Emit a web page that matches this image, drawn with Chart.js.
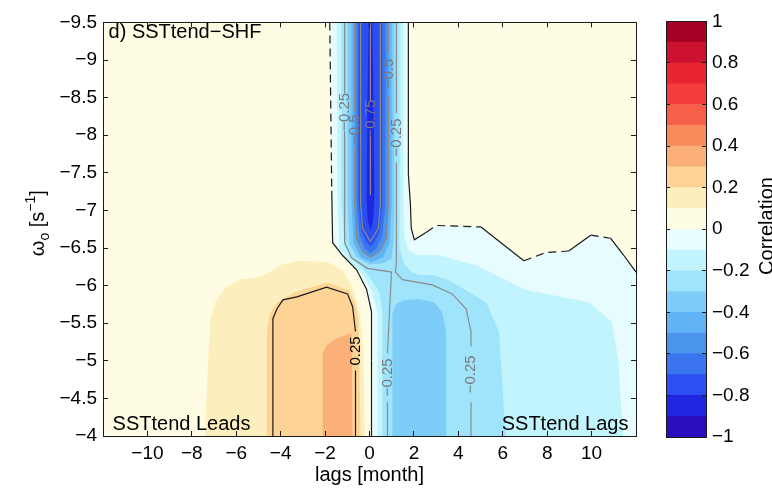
<!DOCTYPE html>
<html lang="en">
<head>
<meta charset="UTF-8">
<title>SSTtend-SHF lag correlation</title>
<script src="https://cdn.jsdelivr.net/npm/chart.js"></script>
<style>
  html, body { margin: 0; padding: 0; background: #fff; }
  #wrap { position: relative; width: 772px; height: 489px; overflow: hidden; }
  #field { position: absolute; left: 0; top: 0; }
  #bar { position: absolute; left: 640px; top: 0; }
</style>
</head>
<body>
<div id="wrap">
  <canvas id="field" width="660" height="489"></canvas>
  <canvas id="bar" width="132" height="489"></canvas>
</div>
<script>
// axes
const xTicks = [-10, -8, -6, -4, -2, 0, 2, 4, 6, 8, 10];
const yTicks = [-9.5, -9, -8.5, -8, -7.5, -7, -6.5, -6, -5.5, -5, -4.5, -4];
const cbTicks = [-1, -0.8, -0.6, -0.4, -0.2, 0, 0.2, 0.4, 0.6, 0.8, 1];

// colour levels (lower bound of each 0.1 band)
const levels = [-1, -0.9, -0.8, -0.7, -0.6, -0.5, -0.4, -0.3, -0.2, -0.1,
                0, 0.1, 0.2, 0.3, 0.4, 0.5, 0.6, 0.7, 0.8, 0.9];
const levelColors = ['#2a0fbe', '#1f26e0', '#2b4ff0', '#3a74ee', '#4b94ee',
                     '#5fb2f3', '#7ecdf8', '#a0e4fb', '#c2f4fd', '#e6fcff',
                     '#fffce4', '#fdeebd', '#fdd496', '#fbb077', '#f98a5b',
                     '#f6604a', '#f43d3d', '#e82532', '#cc1230', '#a30023'];

// filled contour regions [lag, omega]
const domain = [[-12, -9.5], [12, -9.5], [12, -4], [-12, -4]];
const fillP01 = [[-7.40, -4.0], [-7.31, -4.74], [-7.17, -5.55], [-6.95, -5.78], [-6.50, -5.97], [-5.83, -6.08],
                 [-4.84, -6.12], [-3.95, -6.28], [-3.14, -6.33], [-1.88, -6.31], [-1.21, -6.20], [-0.76, -5.98],
                 [-0.45, -5.65], [-0.27, -5.13], [-0.22, -4.0]];
const fillP02 = [[-4.62, -4.0], [-4.62, -5.39], [-4.48, -5.63], [-4.17, -5.78], [-3.36, -5.91], [-1.93, -6.04],
                 [-0.94, -5.94], [-0.63, -5.76], [-0.49, -5.52], [-0.40, -4.0]];
const fillP03 = [[-2.11, -4.0], [-2.11, -5.10], [-1.93, -5.21], [-1.48, -5.30], [-1.03, -5.35], [-0.81, -5.36], [-0.76, -4.0]];
const fillN00 = [[-1.79, -9.5], [1.75, -9.5], [1.75, -7.48], [1.84, -7.09], [1.88, -6.76], [2.02, -6.61], [2.56, -6.71],
                 [3.00, -6.80], [5.02, -6.78], [6.95, -6.33], [7.94, -6.44], [8.97, -6.46], [9.96, -6.67], [10.85, -6.63],
                 [11.43, -6.41], [12, -6.18], [12, -4.0], [0.09, -4.0], [0.09, -5.65], [-0.13, -5.95], [-0.58, -6.21],
                 [-1.21, -6.40], [-1.66, -6.57], [-1.70, -7.26]];
const fillN01 = [[-1.48, -9.5], [1.52, -9.5], [1.52, -7.09], [1.57, -6.63], [1.79, -6.46], [2.24, -6.40], [3.00, -6.41],
                 [4.80, -6.27], [7.04, -5.94], [9.87, -5.78], [10.90, -5.52], [11.21, -5.0], [11.35, -4.30], [11.43, -4.0],
                 [0.36, -4.0], [0.36, -5.63], [0.13, -5.91], [-0.31, -6.15], [-0.94, -6.33], [-1.35, -6.49], [-1.43, -7.09]];
const fillN02 = [[-1.26, -9.5], [1.35, -9.5], [1.35, -6.50], [1.57, -6.28], [1.88, -6.18], [2.24, -6.14], [2.83, -6.14],
                 [3.59, -6.07], [5.25, -5.78], [5.83, -5.39], [6.05, -4.38], [6.14, -4.0], [0.58, -4.0], [0.58, -5.65],
                 [0.45, -5.91], [-0.09, -6.15], [-0.76, -6.35], [-1.12, -6.53], [-1.26, -7.09]];
const fillN03band = [[-0.99, -9.5], [1.12, -9.5], [1.12, -7.09], [1.08, -6.57], [0.99, -6.36], [0.67, -6.30], [0, -6.28],
                     [-0.58, -6.38], [-0.90, -6.55], [-0.99, -7.09]];
const fillN03core = [[1.03, -4.0], [1.03, -5.63], [1.21, -5.76], [1.57, -5.81], [2.24, -5.82], [2.91, -5.78],
                     [3.27, -5.65], [3.45, -5.39], [3.45, -4.0]];
const fillN04 = [[-0.81, -9.5], [0.99, -9.5], [0.99, -7.09], [0.90, -6.57], [0.63, -6.38], [0.09, -6.31],
                 [-0.40, -6.38], [-0.72, -6.57], [-0.81, -7.09]];
const fillN05 = [[-0.67, -9.5], [0.85, -9.5], [0.85, -7.09], [0.76, -6.62], [0.45, -6.45], [0.04, -6.38],
                 [-0.31, -6.45], [-0.58, -6.62], [-0.67, -7.09]];
const fillN06 = [[-0.58, -9.5], [0.72, -9.5], [0.72, -7.09], [0.58, -6.67], [0.31, -6.49], [0.04, -6.43],
                 [-0.22, -6.49], [-0.45, -6.67], [-0.58, -7.09]];
const fillN07 = [[-0.49, -9.5], [0.58, -9.5], [0.58, -7.09], [0.45, -6.73], [0.22, -6.57], [0.04, -6.52],
                 [-0.13, -6.57], [-0.36, -6.73], [-0.49, -7.09]];
const fillN08 = [[-0.04, -9.5], [0.13, -9.5], [0.18, -8.5], [0.22, -7.16], [0.16, -6.86], [0.04, -6.74],
                 [-0.08, -6.86], [-0.13, -7.16], [-0.09, -8.5]];

// contour lines (null = gap for a label)
const zeroLeft = [[-1.79, -9.5], [-1.70, -7.26], [-1.66, -6.57], [-1.21, -6.40], [-0.58, -6.21], [-0.13, -5.95],
                  [0.09, -5.65], [0.09, -5.0], [0.09, -4.0]];
const zeroLeftDash = [1, 0, 0, 0, 0, 0, 0, 1];
const zeroRight = [[1.75, -9.5], [1.75, -7.48], [1.84, -7.09], [1.88, -6.76], [2.02, -6.61], [2.56, -6.71], [3.00, -6.80],
                   [5.02, -6.78], [6.95, -6.33], [7.94, -6.44], [8.97, -6.46], [9.96, -6.67], [10.85, -6.63],
                   [11.43, -6.41], [12, -6.18]];
const zeroRightDash = [1, 0, 0, 0, 0, 1, 1, 0, 1, 1, 0, 1, 0, 0];
const pos025 = [[-4.35, -4.0], [-4.35, -5.56], [-4.17, -5.69], [-3.90, -5.81], [-3.27, -5.85], [-1.93, -5.98],
                [-0.99, -5.89], [-0.76, -5.72], [-0.67, -5.49], [-0.63, -5.39], null, [-0.63, -4.87], [-0.63, -4.0]];
const neg025a = [[-1.12, -9.5], [-1.12, -8.56], null, [-1.12, -8.06], [-1.12, -6.57], [-0.81, -6.37], [-0.09, -6.23],
                 [0.99, -6.18], [0.90, -5.65], [0.81, -5.10], null, [0.81, -4.45], [0.81, -4.0]];
const neg025b = [[1.21, -9.5], [1.21, -8.30], null, [1.21, -7.64], [1.21, -6.31], [1.17, -6.18], [1.48, -6.08],
                 [2.83, -6.01], [3.72, -5.89], [4.35, -5.69], [4.57, -5.39], [4.57, -5.19], null, [4.57, -4.45], [4.57, -4.0]];
const neg050 = [[-0.67, -9.5], [-0.67, -8.32], null, [-0.67, -7.84], [-0.67, -7.09], [-0.58, -6.62], [-0.31, -6.45],
                [0.04, -6.38], [0.45, -6.45], [0.76, -6.62], [0.85, -7.09], [0.85, -8.53], null, [0.85, -9.11], [0.85, -9.5]];
const neg075 = [[-0.40, -9.5], [-0.40, -7.09], [-0.31, -6.76], [0.04, -6.59], [0.40, -6.76], [0.49, -7.09], [0.49, -9.5]];
const coreLine = [[0.04, -9.5], [0.04, -8.44], null, [0.04, -7.99], [0.04, -7.20]];

const contourLabels = [
  {text: '0.25', x: -0.60, y: -5.13, sign: 1},
  {text: '\u22120.25', x: 0.81, y: -4.78, sign: -1},
  {text: '\u22120.25', x: 4.57, y: -4.82, sign: -1},
  {text: '\u22120.25', x: -1.12, y: -8.31, sign: -1},
  {text: '\u22120.25', x: 1.21, y: -7.97, sign: -1},
  {text: '\u22120.5', x: -0.67, y: -8.08, sign: -1},
  {text: '\u22120.5', x: 0.85, y: -8.82, sign: -1},
  {text: '\u22120.75', x: 0.04, y: -8.22, sign: -1}
];
const panelTexts = [
  {text: 'd) SSTtend\u2212SHF', x: -11.75, y: -9.36, align: 'left'},
  {text: 'SSTtend Leads', x: -11.57, y: -4.15, align: 'left'},
  {text: 'SSTtend Lags', x: 11.66, y: -4.15, align: 'right'}
];

const FONT = '"Liberation Sans", Arial, Helvetica, sans-serif';
Chart.defaults.font.family = FONT;
Chart.defaults.color = '#000';

const pts = arr => arr.map(p => p ? {x: p[0], y: p[1]} : {x: null, y: null});
const colorFor = v => levelColors[Math.min(19, Math.floor((v + 1) * 10 + 1e-6))];
const fmt = v => (v < 0 ? '\u2212' : '') + Math.abs(v);

const fillLayers = [
  [domain, 0.05], [fillP01, 0.15], [fillP02, 0.25], [fillP03, 0.35],
  [fillN00, -0.05], [fillN01, -0.15], [fillN02, -0.25], [fillN03band, -0.35], [fillN03core, -0.35],
  [fillN04, -0.45], [fillN05, -0.55], [fillN06, -0.65], [fillN07, -0.75], [fillN08, -0.85]
];

const BLACK = '#1a1a1a', GREY = '#8a8a8a';
const lineLayers = [
  [neg025a, null, GREY], [neg025b, null, GREY], [neg050, null, GREY], [neg075, null, GREY], [coreLine, null, GREY],
  [pos025, null, BLACK], [zeroLeft, zeroLeftDash, BLACK], [zeroRight, zeroRightDash, BLACK]
];

const datasets = [];
fillLayers.forEach(([poly, v]) => datasets.push({
  data: pts(poly), showLine: true, fill: 'shape', backgroundColor: colorFor(v),
  borderColor: 'rgba(0,0,0,0)', borderWidth: 0, pointRadius: 0, tension: 0
}));
lineLayers.forEach(([poly, dash, color]) => datasets.push({
  data: pts(poly), showLine: true, fill: false, borderColor: color, borderWidth: 1.2,
  pointRadius: 0, tension: 0,
  segment: { borderDash: ctx => (dash && dash[ctx.p0DataIndex]) ? [8, 5] : undefined }
}));
// first dataset is painted last, so give later layers a lower order
datasets.forEach((d, i) => { d.order = datasets.length - i; });

const tickFont = {size: 19};
function frameAxis(pos, ticks, extra) {
  return Object.assign({
    type: 'linear', position: pos,
    afterBuildTicks: s => { s.ticks = ticks.map(v => ({value: v})); },
    grid: {drawOnChartArea: false, tickLength: -5, color: BLACK, z: 1},
    border: {color: BLACK, z: 1},
    ticks: {display: false}
  }, extra);
}

const fieldText = {
  id: 'fieldText',
  afterDraw(chart) {
    const {ctx, scales: {x, y}, chartArea} = chart;
    ctx.save();
    ctx.textBaseline = 'middle';
    contourLabels.forEach(l => {
      ctx.save();
      ctx.translate(x.getPixelForValue(l.x), y.getPixelForValue(l.y));
      ctx.rotate(-Math.PI / 2);
      ctx.font = '15px ' + FONT;
      ctx.fillStyle = l.sign > 0 ? '#000' : '#7a7a7a';
      ctx.textAlign = 'center';
      ctx.fillText(l.text, 0, 0);
      ctx.restore();
    });
    ctx.font = '20px ' + FONT;
    ctx.fillStyle = '#000';
    panelTexts.forEach(t => {
      ctx.textAlign = t.align;
      ctx.fillText(t.text, x.getPixelForValue(t.x), y.getPixelForValue(t.y));
    });
    // y axis title: omega_o [s^-1]
    const parts = [['\u03c9', 20, 0], ['o', 14, 5], [' [s', 20, 0], ['\u22121', 14, -9], [']', 20, 0]];
    ctx.translate(chartArea.left - 59, (chartArea.top + chartArea.bottom) / 2 - 6);
    ctx.rotate(-Math.PI / 2);
    ctx.textAlign = 'left';
    ctx.textBaseline = 'alphabetic';
    let total = 0;
    parts.forEach(p => { ctx.font = p[1] + 'px ' + FONT; total += ctx.measureText(p[0]).width; });
    let cx = -total / 2;
    parts.forEach(p => {
      ctx.font = p[1] + 'px ' + FONT;
      ctx.fillText(p[0], cx, p[2]);
      cx += ctx.measureText(p[0]).width;
    });
    ctx.restore();
  }
};

new Chart(document.getElementById('field'), {
  type: 'scatter',
  data: {datasets},
  options: {
    responsive: false, animation: false, events: [],
    layout: {padding: {left: 33, right: 24, top: 16, bottom: 0}},
    plugins: {legend: {display: false}, tooltip: {enabled: false}},
    scales: {
      x: frameAxis('bottom', xTicks, {
        min: -12, max: 12,
        afterFit: s => { s.height = 53; },
        ticks: {display: true, padding: 11, font: tickFont, callback: fmt, maxRotation: 0, autoSkip: false},
        title: {display: true, text: 'lags [month]', font: {size: 20}, padding: {top: 0, bottom: 2}}
      }),
      x2: frameAxis('top', xTicks, {min: -12, max: 12, afterFit: s => { s.height = 0; }}),
      y: frameAxis('left', yTicks, {
        min: -9.5, max: -4, reverse: true,
        afterFit: s => { s.width = 70; },
        ticks: {display: true, padding: 11, font: tickFont, callback: fmt, autoSkip: false}
      }),
      y2: frameAxis('right', yTicks, {min: -9.5, max: -4, reverse: true, afterFit: s => { s.width = 0; }})
    }
  },
  plugins: [fieldText]
});

// colour bar
const barTitle = {
  id: 'barTitle',
  afterDraw(chart) {
    const {ctx} = chart;
    ctx.save();
    ctx.translate(133, 226);
    ctx.rotate(-Math.PI / 2);
    ctx.font = '20px ' + FONT;
    ctx.fillStyle = '#000';
    ctx.textAlign = 'center';
    ctx.textBaseline = 'alphabetic';
    ctx.fillText('Correlation', 0, 0);
    ctx.restore();
  }
};

new Chart(document.getElementById('bar'), {
  type: 'bar',
  data: {
    labels: ['Correlation'],
    datasets: levelColors.map((c, i) => ({
      data: [[levels[i], levels[i] + 0.1]], backgroundColor: c, borderWidth: 0,
      barPercentage: 1, categoryPercentage: 1, grouped: false
    }))
  },
  options: {
    responsive: false, animation: false, events: [],
    layout: {padding: {left: 26, right: 0, top: 15, bottom: 52}},
    plugins: {legend: {display: false}, tooltip: {enabled: false}},
    scales: {
      x: {position: 'bottom', ticks: {display: false}, grid: {display: false},
          border: {color: BLACK, z: 1}, afterFit: s => { s.height = 0; }},
      x2: {type: 'category', position: 'top', ticks: {display: false}, grid: {display: false},
           border: {color: BLACK, z: 1}, afterFit: s => { s.height = 0; }},
      y: Object.assign(frameAxis('left', cbTicks, {min: -1, max: 1, afterFit: s => { s.width = 0; }}),
                       {grid: {drawOnChartArea: false, tickLength: -4, color: BLACK, z: 1}}),
      y2: Object.assign(frameAxis('right', cbTicks, {
        min: -1, max: 1, afterFit: s => { s.width = 66; },
        ticks: {display: true, padding: 10, font: tickFont, callback: fmt, autoSkip: false}
      }), {grid: {drawOnChartArea: false, tickLength: -4, color: BLACK, z: 1}})
    }
  },
  plugins: [barTitle]
});
</script>
</body>
</html>
